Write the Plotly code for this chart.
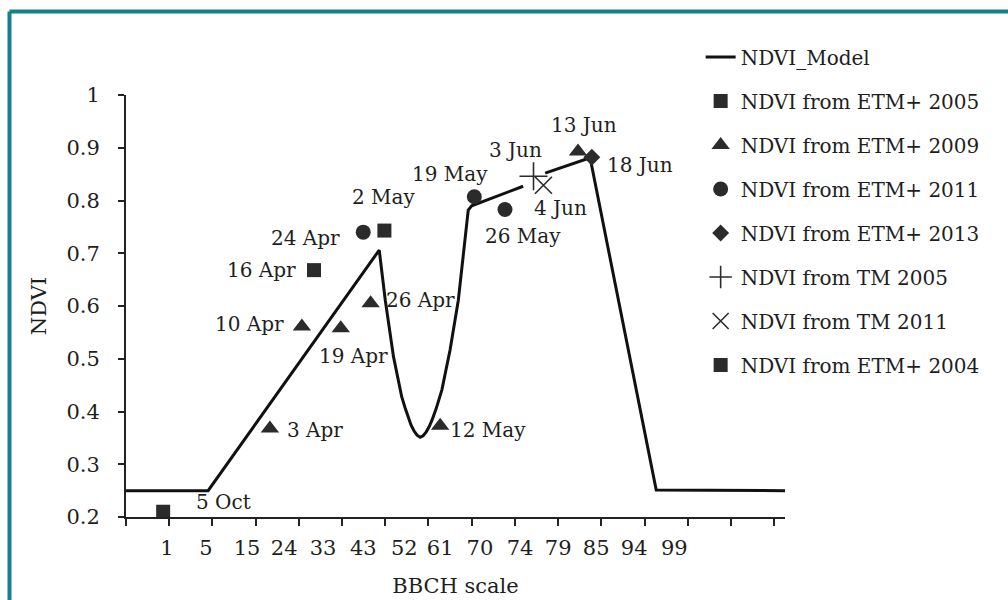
"""
NDVI model curve against Landsat-derived NDVI observations on the BBCH scale.
"""

import plotly.graph_objects as go

# x is measured in axis tick steps (one step per tick mark), y is NDVI
bbch_labels = ["1", "5", "15", "24", "33", "43", "52", "61", "70", "74", "79", "85", "94", "99"]
bbch_label_pos = [0.95, 1.85, 2.80, 3.66, 4.56, 5.49, 6.44, 7.27, 8.19, 9.12, 10.0, 10.88, 11.76, 12.69]

ndvi_ticks = [0.2, 0.3, 0.4, 0.5, 0.6, 0.7, 0.8, 0.9, 1.0]
ndvi_tick_text = ["0.2", "0.3", "0.4", "0.5", "0.6", "0.7", "0.8", "0.9", "1"]

# model curve, None marks the break around the TM 2005 point
model_x = [0.0, 1.90, 5.86, 6.00, 6.19, 6.38, 6.458, 6.528, 6.597, 6.667, 6.736, 6.806,
           6.875, 6.944, 7.014, 7.083, 7.176, 7.31, 7.50, 7.69, 7.85, 7.92, 8.00, 9.19,
           None, 9.70, 10.74, 12.27, 15.25]
model_y = [0.25, 0.25, 0.706, 0.611, 0.504, 0.428, 0.407, 0.390, 0.374, 0.363, 0.355, 0.351,
           0.354, 0.361, 0.371, 0.384, 0.405, 0.441, 0.517, 0.611, 0.725, 0.782, 0.790, 0.827,
           None, 0.852, 0.881, 0.251, 0.25]

etm2005_x = [4.35, 5.98]
etm2005_y = [0.668, 0.743]
etm2005_dates = ["16 Apr", "2 May"]

etm2009_x = [3.33, 4.07, 4.97, 5.66, 7.27, 10.46]
etm2009_y = [0.368, 0.561, 0.558, 0.605, 0.373, 0.893]
etm2009_dates = ["3 Apr", "10 Apr", "19 Apr", "26 Apr", "12 May", "13 Jun"]

etm2011_x = [5.49, 8.06, 8.77]
etm2011_y = [0.740, 0.807, 0.783]
etm2011_dates = ["24 Apr", "19 May", "26 May"]

etm2013_x = [10.78]
etm2013_y = [0.882]
etm2013_dates = ["18 Jun"]

tm2005_x = [9.43]
tm2005_y = [0.846]
tm2005_dates = ["3 Jun"]

tm2011_x = [9.66]
tm2011_y = [0.829]
tm2011_dates = ["4 Jun"]

etm2004_x = [0.86]
etm2004_y = [0.210]
etm2004_dates = ["5 Oct"]

FONT = "DejaVu Serif"
INK = "#2b2b2b"

# label placement relative to its point, in pixels (dx right, dy up)
label_offsets = {
    "5 Oct": (60, 10), "16 Apr": (-52, 0), "2 May": (-1, 34),
    "3 Apr": (45, -2), "10 Apr": (-52, 3), "19 Apr": (13, -28),
    "26 Apr": (50, 3), "12 May": (48, -4), "13 Jun": (6, 26),
    "24 Apr": (-58, -6), "19 May": (-24, 23), "26 May": (18, -27),
    "18 Jun": (48, -8), "3 Jun": (-18, 26), "4 Jun": (17, -23),
}

series = [
    ("NDVI from ETM+ 2005", etm2005_x, etm2005_y, etm2005_dates, "square", 14),
    ("NDVI from ETM+ 2009", etm2009_x, etm2009_y, etm2009_dates, "triangle-up", 16),
    ("NDVI from ETM+ 2011", etm2011_x, etm2011_y, etm2011_dates, "circle", 15),
    ("NDVI from ETM+ 2013", etm2013_x, etm2013_y, etm2013_dates, "diamond", 13),
    ("NDVI from TM 2005", tm2005_x, tm2005_y, tm2005_dates, "cross-thin", 20),
    ("NDVI from TM 2011", tm2011_x, tm2011_y, tm2011_dates, "x-thin", 17),
    ("NDVI from ETM+ 2004", etm2004_x, etm2004_y, etm2004_dates, "square", 14),
]

fig = go.Figure()
fig.add_trace(go.Scatter(
    x=model_x, y=model_y, mode="lines", name="NDVI_Model", legendgroup="model",
    line=dict(color="#111111", width=3), connectgaps=False,
))

annotations = []
for name, xs, ys, dates, symbol, size in series:
    thin = symbol.endswith("-thin")
    fig.add_trace(go.Scatter(
        x=xs, y=ys, mode="markers", name=name, legendgroup=name,
        marker=dict(symbol=symbol, size=size, color=INK,
                    line=dict(color=INK, width=1.6 if thin else 0)),
    ))
    for x, y, d in zip(xs, ys, dates):
        dx, dy = label_offsets[d]
        annotations.append(dict(
            x=x, y=y, text=d, showarrow=False, xshift=dx, yshift=dy,
            xanchor="center", yanchor="middle", font=dict(family=FONT, size=20, color="#1e1e1e"),
        ))

# teal frame along the top and left edges of the picture
frame = dict(color="#13808a", width=4)
shapes = [
    dict(type="line", xref="paper", yref="paper", x0=-0.1768, x1=1.35, y0=1.198, y1=1.198, line=frame),
    dict(type="line", xref="paper", yref="paper", x0=-0.1768, x1=-0.1768, y0=-0.2, y1=1.198, line=frame),
]

fig.update_layout(
    width=1008, height=600,
    margin=dict(l=126, r=223, t=95, b=83, autoexpand=False),
    paper_bgcolor="white", plot_bgcolor="white",
    font=dict(family=FONT, size=20, color="#1e1e1e"),
    showlegend=True,
    legend=dict(
        x=0.872, y=0.725, xanchor="left", yanchor="middle",
        font=dict(family=FONT, size=20), bgcolor="rgba(0,0,0,0)",
        traceorder="grouped", tracegroupgap=15, itemwidth=30,
    ),
    annotations=annotations,
    shapes=shapes,
    xaxis=dict(
        range=[0, 15.25], showgrid=False, zeroline=False,
        showline=True, linecolor="#222", linewidth=2,
        tickmode="array", tickvals=bbch_label_pos, ticktext=bbch_labels,
        ticks="outside", ticklen=0, tickcolor="rgba(0,0,0,0)", ticklabelstandoff=11,
        tickfont=dict(family=FONT, size=21),
        minor=dict(tickmode="linear", tick0=0, dtick=1, ticks="outside",
                   ticklen=7, tickwidth=2, tickcolor="#222"),
        title=dict(text="BBCH scale", standoff=19, font=dict(family=FONT, size=21)),
    ),
    yaxis=dict(
        range=[0.2, 1.0], showgrid=False, zeroline=False,
        showline=True, linecolor="#222", linewidth=2,
        tickmode="array", tickvals=ndvi_ticks, ticktext=ndvi_tick_text,
        ticks="outside", ticklen=6, tickwidth=2, tickcolor="#222", ticklabelstandoff=14,
        tickfont=dict(family=FONT, size=21),
        title=dict(text="NDVI", standoff=14, font=dict(family=FONT, size=21)),
    ),
)

# drop the browser's default page margin so the figure sits at the window corner
fig.write_html(
    "out.html",
    config={"displayModeBar": False},
    post_script="document.body.style.margin = '0';",
)
